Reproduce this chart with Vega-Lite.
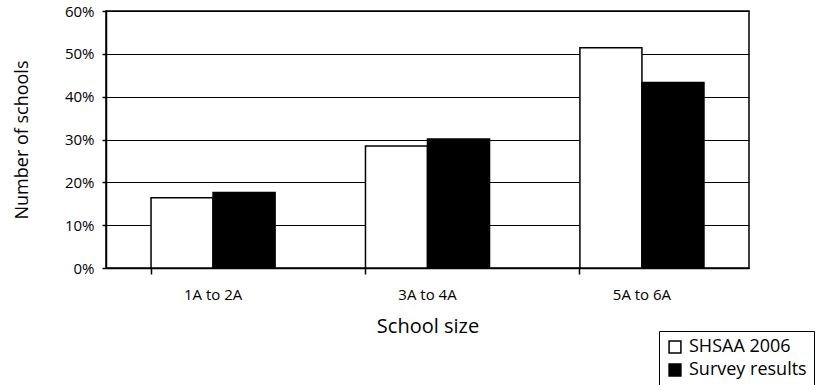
{
  "$schema": "https://vega.github.io/schema/vega-lite/v6.json",
  "width": 643,
  "height": 257,
  "autosize": "none",
  "padding": {"left": 106, "top": 11, "right": 67, "bottom": 117},
  "background": "white",
  "config": {
    "font": "Open Sans",
    "view": {"stroke": "black", "strokeWidth": 1.5}
  },
  "data": {
    "values": [
      {"size": "1A to 2A", "series": "SHSAA 2006", "value": 0.164},
      {"size": "1A to 2A", "series": "Survey results", "value": 0.176},
      {"size": "3A to 4A", "series": "SHSAA 2006", "value": 0.285},
      {"size": "3A to 4A", "series": "Survey results", "value": 0.301},
      {"size": "5A to 6A", "series": "SHSAA 2006", "value": 0.514},
      {"size": "5A to 6A", "series": "Survey results", "value": 0.433}
    ]
  },
  "resolve": {"axis": {"x": "independent"}},
  "layer": [
    {
      "mark": {"type": "bar", "stroke": "black", "strokeWidth": 1.5},
      "encoding": {
        "x": {
          "field": "size",
          "type": "nominal",
          "sort": ["1A to 2A", "3A to 4A", "5A to 6A"],
          "scale": {"paddingInner": 0.4215, "paddingOuter": 0.21},
          "axis": {
            "orient": "bottom",
            "title": "School size",
            "titleFontSize": 20,
            "titleFontWeight": "normal",
            "titleColor": "black",
            "titlePadding": 14,
            "labelAngle": 0,
            "labelFontSize": 15,
            "labelColor": "black",
            "labelPadding": 19,
            "ticks": false,
            "domainColor": "black",
            "domainWidth": 1.5
          }
        },
        "xOffset": {
          "field": "series",
          "type": "nominal",
          "sort": ["SHSAA 2006", "Survey results"],
          "scale": {"paddingInner": 0, "paddingOuter": 0}
        },
        "y": {
          "field": "value",
          "type": "quantitative",
          "scale": {"domain": [0, 0.6], "nice": false},
          "axis": {
            "format": ".0%",
            "values": [0, 0.1, 0.2, 0.3, 0.4, 0.5, 0.6],
            "title": "Number of schools",
            "titleFontSize": 18,
            "titleFontWeight": "normal",
            "titleColor": "black",
            "titlePadding": 33,
            "labelFontSize": 15,
            "labelColor": "black",
            "labelPadding": 8,
            "tickSize": 4,
            "tickColor": "black",
            "tickWidth": 1.5,
            "domainColor": "black",
            "domainWidth": 1.5,
            "grid": true,
            "gridColor": "black",
            "gridWidth": 1.2,
            "gridOpacity": 1
          }
        },
        "fill": {
          "field": "series",
          "type": "nominal",
          "scale": {"domain": ["SHSAA 2006", "Survey results"], "range": ["white", "black"]},
          "legend": {
            "title": null,
            "orient": "none",
            "legendX": 553,
            "legendY": 320,
            "strokeColor": "black",
            "fillColor": "white",
            "padding": 7,
            "symbolType": "square",
            "symbolSize": 140,
            "symbolStrokeColor": "black",
            "symbolStrokeWidth": 1.5,
            "labelFontSize": 18,
            "labelColor": "black",
            "labelLimit": 300,
            "rowPadding": 5,
            "labelOffset": 5
          }
        }
      }
    },
    {
      "mark": {"type": "bar", "opacity": 0},
      "encoding": {
        "x": {
          "field": "size",
          "type": "nominal",
          "sort": ["1A to 2A", "3A to 4A", "5A to 6A"],
          "axis": {
            "orient": "bottom",
            "bandPosition": 0,
            "labels": false,
            "title": null,
            "domain": false,
            "ticks": true,
            "tickSize": 6,
            "tickColor": "black",
            "tickWidth": 1.5
          }
        }
      }
    }
  ]
}
